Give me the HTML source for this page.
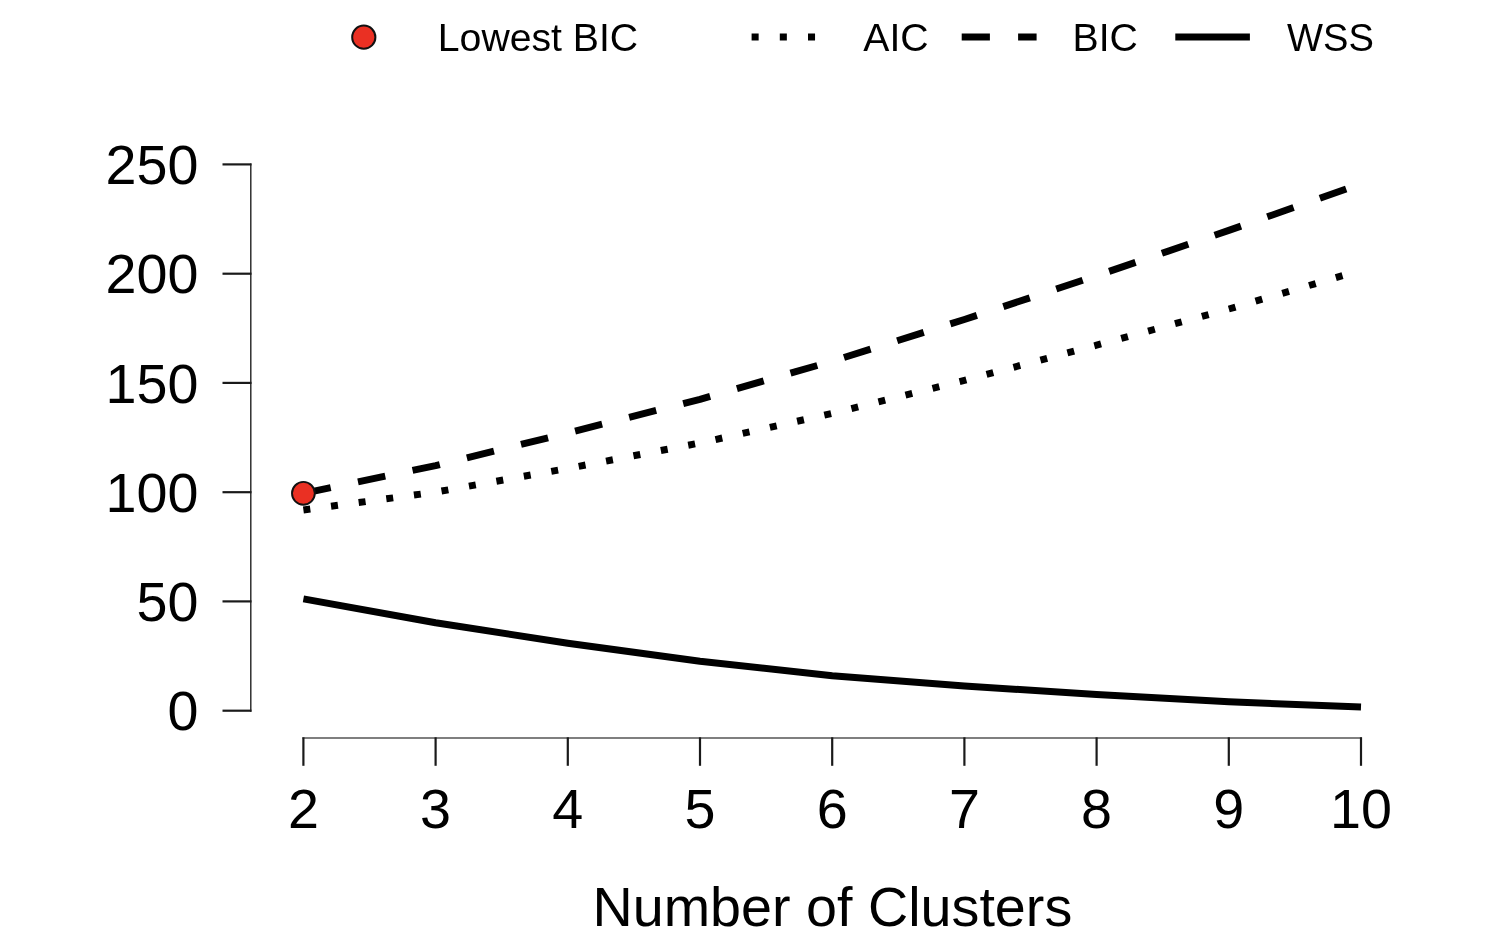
<!DOCTYPE html>
<html><head><meta charset="utf-8"><title>Number of Clusters</title>
<style>
html,body{margin:0;padding:0;background:#fff;}
svg{display:block;}
text{font-family:"Liberation Sans",sans-serif;fill:#000;}
</style></head><body>
<svg width="1494" height="946" viewBox="0 0 1494 946">
<rect width="1494" height="946" fill="#fff"/>
<!-- legend -->
<circle cx="363.8" cy="37.2" r="11.6" fill="#ea3023" stroke="#111" stroke-width="2"/>
<text x="437.8" y="50.5" font-size="39.2">Lowest BIC</text>
<line x1="751.6" y1="37" x2="826" y2="37" stroke="#000" stroke-width="7.05" stroke-dasharray="7.05 21.15"/>
<text x="863.3" y="50.5" font-size="39.2">AIC</text>
<line x1="961.7" y1="37" x2="1036.6" y2="37" stroke="#000" stroke-width="7.05" stroke-dasharray="28.2 28.2"/>
<text x="1072.5" y="50.5" font-size="39.2">BIC</text>
<line x1="1175.3" y1="37" x2="1249.9" y2="37" stroke="#000" stroke-width="7.05"/>
<text x="1287" y="50.5" font-size="39.2" textLength="86.8" lengthAdjust="spacingAndGlyphs">WSS</text>
<!-- y axis -->
<line x1="250.8" y1="163.4" x2="250.8" y2="711.7" stroke="#222" stroke-width="1.4"/>
<line x1="222.5" y1="710.7" x2="251.5" y2="710.7" stroke="#1a1a1a" stroke-width="2.2"/>
<text x="198.4" y="730.4" font-size="55.7" text-anchor="end">0</text>
<line x1="222.5" y1="601.4" x2="251.5" y2="601.4" stroke="#1a1a1a" stroke-width="2.2"/>
<text x="198.4" y="621.1" font-size="55.7" text-anchor="end">50</text>
<line x1="222.5" y1="492.2" x2="251.5" y2="492.2" stroke="#1a1a1a" stroke-width="2.2"/>
<text x="198.4" y="511.9" font-size="55.7" text-anchor="end">100</text>
<line x1="222.5" y1="382.9" x2="251.5" y2="382.9" stroke="#1a1a1a" stroke-width="2.2"/>
<text x="198.4" y="402.6" font-size="55.7" text-anchor="end">150</text>
<line x1="222.5" y1="273.7" x2="251.5" y2="273.7" stroke="#1a1a1a" stroke-width="2.2"/>
<text x="198.4" y="293.4" font-size="55.7" text-anchor="end">200</text>
<line x1="222.5" y1="164.4" x2="251.5" y2="164.4" stroke="#1a1a1a" stroke-width="2.2"/>
<text x="198.4" y="184.1" font-size="55.7" text-anchor="end">250</text>
<line x1="302.4" y1="738" x2="1362" y2="738" stroke="#555" stroke-width="1.5"/>
<line x1="303.4" y1="737.3" x2="303.4" y2="765.8" stroke="#1a1a1a" stroke-width="2.2"/>
<text x="303.4" y="827.6" font-size="55.7" text-anchor="middle">2</text>
<line x1="435.6" y1="737.3" x2="435.6" y2="765.8" stroke="#1a1a1a" stroke-width="2.2"/>
<text x="435.6" y="827.6" font-size="55.7" text-anchor="middle">3</text>
<line x1="567.8" y1="737.3" x2="567.8" y2="765.8" stroke="#1a1a1a" stroke-width="2.2"/>
<text x="567.8" y="827.6" font-size="55.7" text-anchor="middle">4</text>
<line x1="700.0" y1="737.3" x2="700.0" y2="765.8" stroke="#1a1a1a" stroke-width="2.2"/>
<text x="700.0" y="827.6" font-size="55.7" text-anchor="middle">5</text>
<line x1="832.2" y1="737.3" x2="832.2" y2="765.8" stroke="#1a1a1a" stroke-width="2.2"/>
<text x="832.2" y="827.6" font-size="55.7" text-anchor="middle">6</text>
<line x1="964.4" y1="737.3" x2="964.4" y2="765.8" stroke="#1a1a1a" stroke-width="2.2"/>
<text x="964.4" y="827.6" font-size="55.7" text-anchor="middle">7</text>
<line x1="1096.6" y1="737.3" x2="1096.6" y2="765.8" stroke="#1a1a1a" stroke-width="2.2"/>
<text x="1096.6" y="827.6" font-size="55.7" text-anchor="middle">8</text>
<line x1="1228.8" y1="737.3" x2="1228.8" y2="765.8" stroke="#1a1a1a" stroke-width="2.2"/>
<text x="1228.8" y="827.6" font-size="55.7" text-anchor="middle">9</text>
<line x1="1361.0" y1="737.3" x2="1361.0" y2="765.8" stroke="#1a1a1a" stroke-width="2.2"/>
<text x="1361.0" y="827.6" font-size="55.7" text-anchor="middle">10</text>
<text x="832.4" y="925.6" font-size="55.7" text-anchor="middle">Number of Clusters</text>
<polyline points="303.4,598.9 435.6,622.7 567.8,643.2 700.0,661.2 832.2,675.7 964.4,686.0 1096.6,694.6 1228.8,701.8 1361.0,707.0" fill="none" stroke="#000" stroke-width="6.97" stroke-linejoin="round"/>
<polyline points="303.4,510.0 435.6,492.1 567.8,468.4 700.0,443.0 832.2,413.4 964.4,380.3 1096.6,345.2 1228.8,309.0 1361.0,270.3" fill="none" stroke="#000" stroke-width="6.97" stroke-dasharray="6.97 20.91" stroke-linejoin="round"/>
<polyline points="303.4,493.3 435.6,465.6 567.8,432.9 700.0,399.3 832.2,361.2 964.4,319.5 1096.6,275.7 1228.8,230.4 1361.0,183.8" fill="none" stroke="#000" stroke-width="6.97" stroke-dasharray="27.88 27.88" stroke-linejoin="round"/>
<circle cx="303.4" cy="493.3" r="11.4" fill="#ea3023" stroke="#111" stroke-width="1.9"/>
</svg></body></html>
